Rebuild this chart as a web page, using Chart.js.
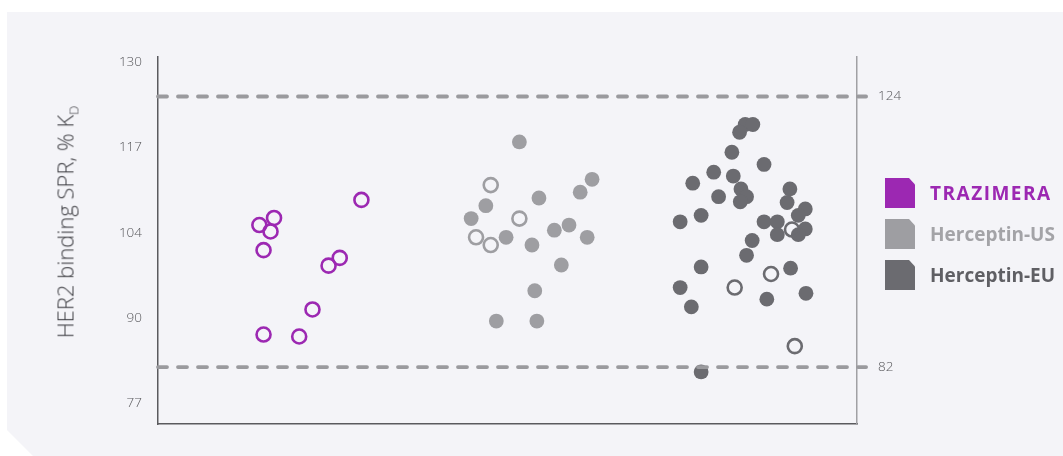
<!DOCTYPE html>
<html>
<head>
<meta charset="utf-8">
<script src="https://cdn.jsdelivr.net/npm/chart.js@4"></script>
<style>
  body { margin: 0; background: #fff; font-family: "Open Sans", sans-serif; }
  #wrap { position: relative; width: 1063px; height: 456px; overflow: hidden; }
  #panel {
    position: absolute; left: 7px; top: 12px; right: 0; bottom: 0;
    background: #f4f4f8;
    clip-path: polygon(0 0, 100% 0, 100% 100%, 26px 100%, 0 calc(100% - 26px));
  }
  #chart { position: absolute; left: 0; top: 0; }
  #ytitle {
    position: absolute; left: 66px; top: 222px;
    transform: translate(-50%, -50%) rotate(-90deg);
    white-space: nowrap; font-size: 22px; font-weight: 300; color: #3f3f44;
  }
  #ytitle sub { font-size: 13px; vertical-align: -5px; }
  .leg { position: absolute; left: 885px; display: flex; align-items: center; }
  .leg .box {
    width: 30px; height: 30px; margin-right: 15px;
    clip-path: polygon(0 0, 80% 0, 100% 22%, 100% 100%, 0 100%);
  }
  .leg span { font-size: 19px; font-weight: 700; }
</style>
</head>
<body>
<div id="wrap">
  <div id="panel"></div>
  <canvas id="chart" width="1063" height="456"></canvas>
  <div id="ytitle">HER2 binding SPR, % K<sub>D</sub></div>
  <div id="legend"></div>
</div>
<script>
// left axis tick positions and their printed labels
const tickValues = [77, 90.25, 103.5, 116.75, 130]
const tickLabels = ['77', '90', '104', '117', '130']
// acceptance range lines (right axis)
const rangeValues = [82, 124]

const names = ['TRAZIMERA', 'Herceptin-US', 'Herceptin-EU']
const colors = ['#9c28b2', '#9e9ea2', '#6b6b70']
const textColors = ['#9c28b2', '#a3a3a7', '#5f5f64']
const spacing = ['1.5px', '0px', '0px']

// x = horizontal jitter position (0-100), y = % KD
const trazX = [29.1, 14.5, 16.6, 16.1, 15.1, 26.0, 24.4, 22.1, 15.1, 20.2]
const trazY = [108.6, 104.7, 105.8, 103.7, 100.8, 99.6, 98.4, 91.6, 87.7, 87.4]

const usX = [51.7, 62.1, 60.4, 54.5, 46.9, 44.8, 58.8, 56.7, 49.8, 61.4, 53.5, 57.7, 53.9, 48.4, 54.2]
const usY = [117.6, 111.8, 109.8, 108.9, 107.7, 105.7, 104.7, 103.9, 102.8, 102.8, 101.6, 98.5, 94.5, 89.8, 89.8]
const usOpenX = [47.6, 51.7, 45.5, 47.6]
const usOpenY = [110.9, 105.7, 102.8, 101.6]

const euX = [84.0, 85.1, 83.2, 82.1, 86.7, 79.5, 82.3, 76.5, 90.4, 83.4, 80.2, 84.2, 83.3, 90.0, 92.6, 91.6,
  77.7, 74.7, 86.7, 88.6, 92.6, 91.6, 88.6, 85.0, 84.2, 77.7, 90.5, 74.7, 92.7, 87.1, 76.3, 77.7]
const euY = [120.3, 120.3, 119.1, 116.0, 114.1, 112.9, 112.3, 111.2, 110.3, 110.3, 109.1, 109.1, 108.3, 108.2, 107.2, 106.2,
  106.2, 105.2, 105.2, 105.2, 104.1, 103.2, 103.2, 102.3, 100.0, 98.2, 98.0, 95.0, 94.1, 93.2, 92.0, 81.9]
const euOpenX = [90.7, 87.7, 82.5, 91.1]
const euOpenY = [104.0, 97.1, 95.0, 85.9]

const lineEndX = 101.3

function pts(xs, ys){ return xs.map((x,i)=>({x:x, y:ys[i]})) }

function openSet(xs, ys, color){
  return { data: pts(xs, ys), yAxisID: 'y', pointRadius: 7, pointBorderWidth: 2.6,
    pointBackgroundColor: 'rgba(0,0,0,0)', pointBorderColor: color, showLine: false }
}
function fillSet(xs, ys, color){
  return { data: pts(xs, ys), yAxisID: 'y', pointRadius: 7.4, pointBorderWidth: 0,
    pointBackgroundColor: color, pointBorderColor: color, showLine: false }
}

const datasets = rangeValues.map(v => ({
  type: 'line', data: [{x:0, y:v}, {x:lineEndX, y:v}], yAxisID: 'y2',
  borderColor: '#9a9a9e', borderWidth: 3.8, borderDash: [9, 11], borderCapStyle: 'round',
  pointRadius: 0, clip: false
}))
datasets.push(openSet(euOpenX, euOpenY, colors[2]))
datasets.push(fillSet(euX, euY, colors[2]))
datasets.push(openSet(usOpenX, usOpenY, colors[1]))
datasets.push(fillSet(usX, usY, colors[1]))
datasets.push(openSet(trazX, trazY, colors[0]))

const tickFont = { family: 'Open Sans', size: 13.5, weight: '300' }

new Chart(document.getElementById('chart').getContext('2d'), {
  type: 'scatter',
  data: { datasets: datasets },
  options: {
    responsive: false, animation: false, events: [],
    layout: { padding: { top: 57, left: 0, right: 0, bottom: 0 } },
    plugins: { legend: { display: false }, tooltip: { enabled: false } },
    scales: {
      x: {
        type: 'linear', min: 0, max: 100,
        grid: { display: false, drawTicks: false },
        ticks: { display: false },
        border: { display: true, color: '#5a5a5e', width: 1.5 },
        afterFit: s => { s.height = 32 }
      },
      y: {
        position: 'left', min: 73.82, max: 130.78,
        grid: { display: false, drawTicks: false },
        border: { display: true, color: '#5a5a5e', width: 1.5 },
        afterBuildTicks: s => { s.ticks = tickValues.map(v => ({ value: v })) },
        ticks: {
          padding: 16, color: '#58585c', font: tickFont,
          callback: (v) => tickLabels[tickValues.indexOf(v)]
        },
        afterFit: s => { s.width = 158 }
      },
      y2: {
        position: 'right', min: 73.17, max: 130.13,
        grid: { display: false, drawTicks: false },
        border: { display: true, color: '#a0a0a4', width: 1.5 },
        afterBuildTicks: s => { s.ticks = rangeValues.map(v => ({ value: v })) },
        ticks: { padding: 21, color: '#58585c', font: tickFont },
        afterFit: s => { s.width = 206 }
      }
    }
  }
})

// legend with dog-eared boxes
const legend = document.getElementById('legend')
names.forEach((n, i) => {
  const row = document.createElement('div')
  row.className = 'leg'
  row.style.top = (178 + i * 41) + 'px'
  row.innerHTML = '<div class="box" style="background:' + colors[i] + '"></div><span style="color:' + textColors[i] +
    ';letter-spacing:' + spacing[i] + '">' + n + '</span>'
  legend.appendChild(row)
})
</script>
</body>
</html>
